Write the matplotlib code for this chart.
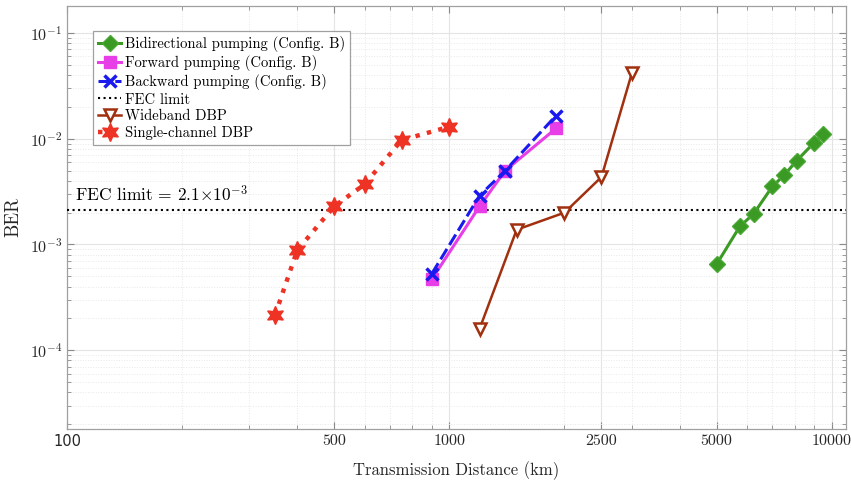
import numpy as np
import matplotlib
matplotlib.use("Agg")
import matplotlib.pyplot as plt
from matplotlib.ticker import FixedLocator, FixedFormatter, LogLocator, NullFormatter

plt.rcParams['font.family'] = ['cmr10', 'DejaVu Serif']
plt.rcParams['mathtext.fontset'] = 'cm'
plt.rcParams['axes.formatter.use_mathtext'] = True

# Datos
dist_bidir = [5000, 5750, 6250, 7000, 7500, 8100, 9000, 9500]
ber_bidir = [6.5e-4, 1.48e-3, 1.95e-3, 3.55e-3, 4.5e-3, 6.2e-3, 9.2e-3, 1.1e-2]

dist_fwd = [900, 1200, 1400, 1900]
ber_fwd = [4.7e-4, 2.3e-3, 5.0e-3, 1.25e-2]

dist_bwd = [900, 1200, 1400, 1900]
ber_bwd = [5.3e-4, 2.9e-3, 5.0e-3, 1.65e-2]

dist_wdbp = [1200, 1500, 2000, 2500, 3000]
ber_wdbp = [1.6e-4, 1.38e-3, 2.0e-3, 4.35e-3, 4.15e-2]

dist_scdbp = [350, 400, 500, 600, 750, 1000]
ber_scdbp = [2.15e-4, 8.8e-4, 2.3e-3, 3.7e-3, 9.7e-3, 1.3e-2]

fec_limit = 2.1e-3

x_ticks = [100, 500, 1000, 2500, 5000, 10000]
x_ticklabels = ['100', '500', '1000', '2500', '5000', '10000']
y_ticks = [1e-4, 1e-3, 1e-2, 1e-1]

fig = plt.figure(figsize=(8.51, 4.8), dpi=100)
ax = fig.add_axes([67 / 851, 1 - 429 / 480, (846 - 67) / 851, (429 - 6) / 480])

ax.set_xscale('log')
ax.set_yscale('log')

ax.plot(dist_bidir, ber_bidir, '-', color='#3a9a24', lw=2.2, marker='D', ms=8,
        mfc='#3a9a24', mec='#4aa834', label='Bidirectional pumping (Config. B)', zorder=5)
ax.plot(dist_fwd, ber_fwd, '-', color='#e83ee8', lw=2.2, marker='s', ms=8,
        label='Forward pumping (Config. B)', zorder=5)
ax.plot(dist_bwd, ber_bwd, '--', color='#1a1aee', lw=2.2, marker='x', ms=8, mew=2.5,
        dashes=(4, 1.5), label='Backward pumping (Config. B)', zorder=6)
ax.axhline(fec_limit, color='black', ls=':', lw=1.5, label='FEC limit', zorder=4)
ax.plot(dist_wdbp, ber_wdbp, '-', color='#a0300e', lw=1.8, marker='v', ms=9,
        mfc='white', mec='#a0300e', mew=1.8, label='Wideband DBP', zorder=5)
ax.plot(dist_scdbp, ber_scdbp, ':', color='#ee3224', lw=3.2, marker=(6, 1, 0), ms=13,
        label='Single-channel DBP', zorder=5)

ax.text(105, 2.55e-3, r'FEC limit = 2.1$\times$10$^{-3}$', fontsize=12.5)

ax.set_xlim(100, 10900)
ax.set_ylim(1.8e-5, 0.18)

ax.xaxis.set_major_locator(FixedLocator(x_ticks))
ax.xaxis.set_major_formatter(FixedFormatter(x_ticklabels))
ax.xaxis.set_minor_locator(LogLocator(base=10, subs=np.arange(2, 10)))
ax.xaxis.set_minor_formatter(NullFormatter())
ax.yaxis.set_major_locator(FixedLocator(y_ticks))
ax.yaxis.set_minor_locator(LogLocator(base=10, subs=np.arange(2, 10)))
ax.yaxis.set_minor_formatter(NullFormatter())

ax.grid(True, which='major', color='#e4e4e4', lw=0.8, zorder=0)
ax.grid(True, which='minor', color='#e8e8e8', lw=0.7, ls=':', zorder=0)
ax.set_axisbelow(True)

for s in ax.spines.values():
    s.set_color('#a0a0a0')
    s.set_linewidth(0.9)
ax.tick_params(which='both', direction='in', top=True, right=True, color='#8a8a8a',
               labelcolor='#262626', labelsize=11.5)
ax.tick_params(which='major', length=5)
ax.tick_params(which='minor', length=3)

for lbl in ax.get_xticklabels():
    if lbl.get_text() == '100':
        lbl.set_family('DejaVu Sans')
        lbl.set_fontsize(10.5)

ax.set_ylabel('BER', fontsize=13.5, color='#262626', labelpad=5)
ax.set_xlabel('Transmission Distance (km)', fontsize=12, color='#262626', labelpad=9)

leg = ax.legend(loc='upper left', bbox_to_anchor=(0.0334, 0.941), borderaxespad=0,
                fontsize=10.5, handlelength=1.6, handletextpad=0.25, borderpad=0.35,
                labelspacing=0.2, frameon=True, fancybox=False, edgecolor='#a0a0a0',
                framealpha=1)
leg.get_frame().set_linewidth(0.9)

fig.savefig('out.png', dpi=100)
